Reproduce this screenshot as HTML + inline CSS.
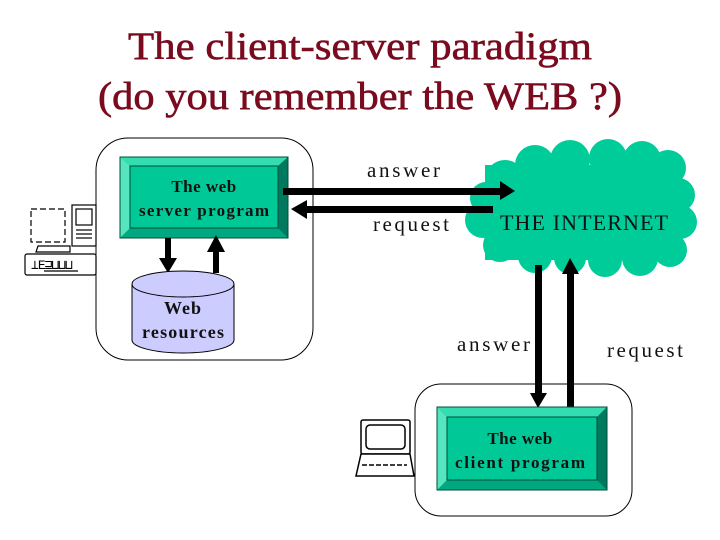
<!DOCTYPE html>
<html><head><style>body{margin:0;background:#fff}svg{display:block}</style></head><body>
<svg width="720" height="540" viewBox="0 0 720 540" xmlns="http://www.w3.org/2000/svg">
<g font-family="Liberation Serif, serif">
<text x="360" y="59" font-size="39" text-anchor="middle" fill="#7a0a1e" stroke="#7a0a1e" stroke-width="0.6" textLength="464" lengthAdjust="spacingAndGlyphs">The client-server paradigm</text>
<text x="360" y="109" font-size="39" text-anchor="middle" fill="#7a0a1e" stroke="#7a0a1e" stroke-width="0.6" textLength="524" lengthAdjust="spacingAndGlyphs">(do you remember the WEB ?)</text>
</g>
<rect x="96" y="138" width="217" height="222" rx="32" fill="#fff" stroke="#000" stroke-width="1"/>
<g stroke="#000" fill="none" stroke-width="1.2">
<rect x="31" y="209" width="34" height="33" stroke-dasharray="6 3"/>
<rect x="72" y="205" width="24" height="41" fill="#fff"/>
<rect x="76" y="209" width="16" height="16"/>
<line x1="76" y1="230" x2="92" y2="230"/><line x1="76" y1="234" x2="92" y2="234"/><line x1="76" y1="238" x2="92" y2="238"/>
<rect x="25" y="254" width="71" height="21" rx="2"/>
<text x="31" y="269" font-size="13" fill="#000" stroke="none" font-family="Liberation Mono, monospace" letter-spacing="-1">⊥E⊒⊔⊔⊔</text>
<line x1="44" y1="271" x2="78" y2="271"/>
<path d="M38 246 L70 246 L70 252 L36 252 Z"/>
</g>
<rect x="120" y="157" width="168" height="81" fill="#00a880"/>
<polygon points="120,157 288,157 278,166 130,166" fill="#33ddb0"/>
<polygon points="120,157 130,166 130,228 120,238" fill="#55e6bf"/>
<polygon points="288,157 278,166 278,228 288,238" fill="#007a5e"/>
<rect x="130" y="166" width="148" height="62" fill="#00c896" stroke="#004d3a" stroke-width="1"/>
<rect x="120" y="157" width="168" height="81" fill="none" stroke="#004d3a"/>
<g font-family="Liberation Serif, serif" font-weight="bold" font-size="17" fill="#111" text-anchor="middle">
<text x="204" y="192" letter-spacing="0.5">The web</text>
<text x="204" y="216" textLength="130" lengthAdjust="spacing">server program</text>
</g>
<rect x="165" y="238" width="6" height="22" fill="#000"/>
<polygon points="159,258 177,258 168,273" fill="#000"/>
<rect x="213" y="250" width="6" height="23" fill="#000"/>
<polygon points="207,252 225,252 216,235" fill="#000"/>
<path d="M132 284 L132 340 A51 13 0 0 0 234 340 L234 284" fill="#ccccff" stroke="#000"/>
<ellipse cx="183" cy="284" rx="51" ry="13" fill="#ccccff" stroke="#000"/>
<g font-family="Liberation Serif, serif" font-weight="bold" font-size="18" fill="#111" text-anchor="middle">
<text x="183" y="314" letter-spacing="1">Web</text>
<text x="183" y="338" textLength="82" lengthAdjust="spacing">resources</text>
</g>
<g fill="#00cc99">
<rect x="485" y="165" width="195" height="95"/>
<circle cx="505" cy="180" r="20"/><circle cx="535" cy="165" r="20"/><circle cx="570" cy="160" r="20"/><circle cx="608" cy="158" r="19"/>
<circle cx="642" cy="160" r="19"/><circle cx="668" cy="168" r="18"/><circle cx="678" cy="195" r="17"/><circle cx="680" cy="222" r="17"/>
<circle cx="670" cy="250" r="17"/><circle cx="640" cy="258" r="18"/><circle cx="605" cy="260" r="17"/><circle cx="570" cy="258" r="16"/>
<circle cx="535" cy="256" r="17"/><circle cx="500" cy="245" r="17"/><circle cx="483" cy="220" r="18"/><circle cx="486" cy="198" r="16"/>
</g>
<rect x="283" y="188" width="220" height="7" fill="#000"/>
<polygon points="500,181 515,191 500,200" fill="#000"/>
<rect x="305" y="206" width="188" height="7" fill="#000"/>
<polygon points="307,200 291,209 307,219" fill="#000"/>
<rect x="535" y="265" width="7" height="130" fill="#000"/>
<polygon points="530,393 547,393 538,408" fill="#000"/>
<rect x="567" y="272" width="7" height="136" fill="#000"/>
<polygon points="562,274 579,274 570,258" fill="#000"/>
<text x="584" y="230" font-family="Liberation Serif, serif" font-size="22" fill="#111" text-anchor="middle" textLength="168" lengthAdjust="spacing">THE INTERNET</text>
<g font-family="Liberation Serif, serif" font-size="21" fill="#111">
<text x="367" y="177" textLength="73" lengthAdjust="spacing">answer</text>
<text x="373" y="231" textLength="76" lengthAdjust="spacing">request</text>
<text x="457" y="351" textLength="73" lengthAdjust="spacing">answer</text>
<text x="607" y="357" textLength="76" lengthAdjust="spacing">request</text>
</g>
<rect x="415" y="384" width="217" height="132" rx="26" fill="none" stroke="#000"/>
<rect x="535" y="384" width="7" height="10" fill="#000"/>
<g stroke="#000" fill="#fff" stroke-width="1.5">
<rect x="361" y="420" width="49" height="34" rx="2"/>
<rect x="366" y="425" width="39" height="24" rx="4"/>
<path d="M361 454 L410 454 L414 476 L356 476 Z"/>
<line x1="362" y1="465" x2="407" y2="465" stroke-dasharray="5 2"/>
</g>
<rect x="437" y="407" width="170" height="83" fill="#00a880"/>
<polygon points="437,407 607,407 597,417 447,417" fill="#33ddb0"/>
<polygon points="437,407 447,417 447,480 437,490" fill="#55e6bf"/>
<polygon points="607,407 597,417 597,480 607,490" fill="#007a5e"/>
<rect x="447" y="417" width="150" height="63" fill="#00c896" stroke="#004d3a"/>
<rect x="437" y="407" width="170" height="83" fill="none" stroke="#004d3a"/>
<g font-family="Liberation Serif, serif" font-weight="bold" font-size="17" fill="#111" text-anchor="middle">
<text x="520" y="444" letter-spacing="0.5">The web</text>
<text x="520" y="468" textLength="130" lengthAdjust="spacing">client program</text>
</g>
</svg>
</body></html>
